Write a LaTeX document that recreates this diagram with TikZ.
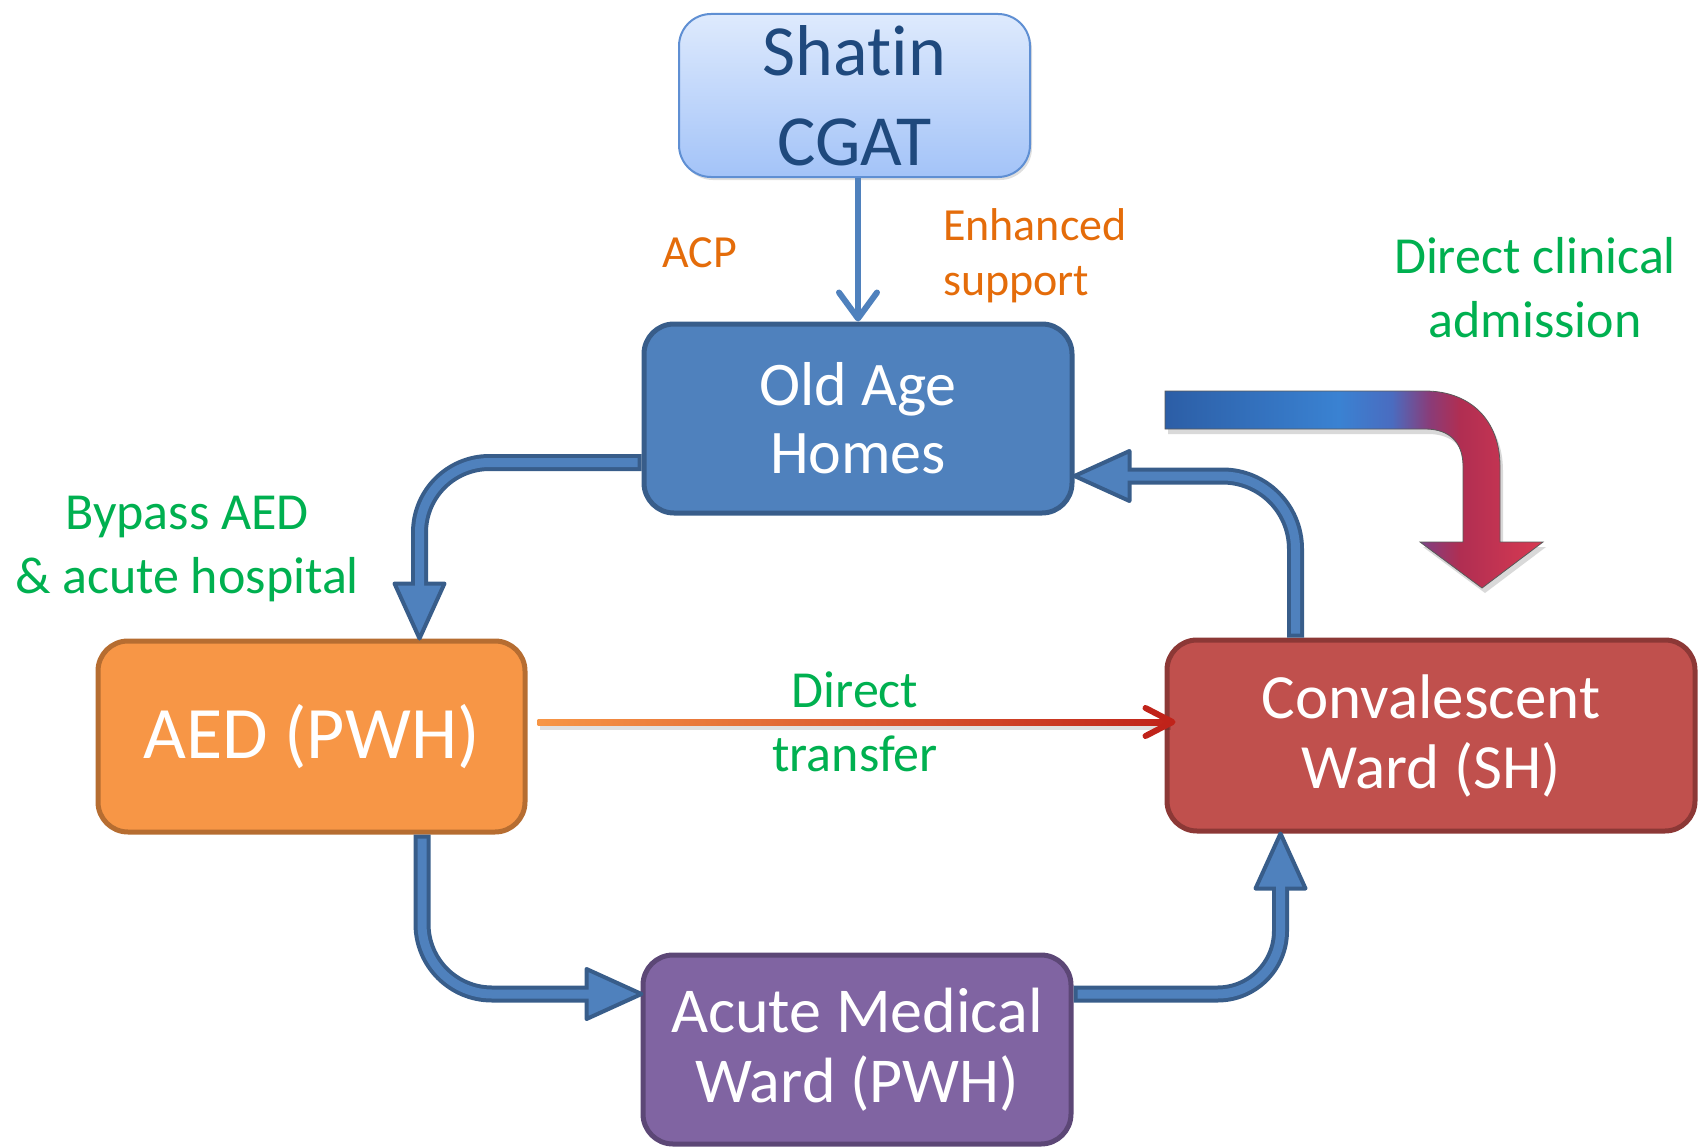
\documentclass[tikz,border=0pt]{standalone}
\usepackage{fontspec}
\setmainfont{Carlito}[Ligatures={NoCommon}]
\usetikzlibrary{calc,arrows.meta,shadows}
\definecolor{oahfill}{HTML}{4F81BD}
\definecolor{oahline}{HTML}{385D8A}
\definecolor{aedfill}{HTML}{F79646}
\definecolor{aedline}{HTML}{B66D31}
\definecolor{convfill}{HTML}{C0504D}
\definecolor{convline}{HTML}{8C3836}
\definecolor{acufill}{HTML}{8064A2}
\definecolor{aculine}{HTML}{5C4776}
\definecolor{cgattop}{HTML}{DEEAFD}
\definecolor{cgatbot}{HTML}{A3C3F8}
\definecolor{cgatline}{HTML}{5F8FD3}
\definecolor{cgattext}{HTML}{1F497D}
\definecolor{lblgreen}{HTML}{00B050}
\definecolor{lblorange}{HTML}{E46C0A}
\definecolor{trorange}{HTML}{F79646}
\definecolor{trred}{HTML}{C0231A}
\definecolor{bgA}{HTML}{2C5EA6}
\definecolor{bgB}{HTML}{3A82D2}
\definecolor{bgC}{HTML}{4A6CC0}
\definecolor{bgD}{HTML}{8A3C78}
\definecolor{bgE}{HTML}{B02E52}
\definecolor{bgF}{HTML}{D83A52}
\pgfdeclarehorizontalshading{bentgrad}{100bp}{color(0bp)=(bgA); color(25bp)=(bgA); color(48bp)=(bgB); color(55bp)=(bgC); color(60bp)=(bgD); color(64bp)=(bgE); color(75bp)=(bgF); color(100bp)=(bgF)}
\tikzset{
  boxbase/.style={rectangle, rounded corners=30pt, inner sep=0pt, align=center, text=white, line width=5pt},
  oahbox/.style={boxbase, fill=oahfill, draw=oahline, minimum width=428pt, minimum height=189pt, font=\fontsize{62}{68}\selectfont},
  aedbox/.style={boxbase, fill=aedfill, draw=aedline, minimum width=427pt, minimum height=191pt, font=\fontsize{74}{80}\selectfont},
  convbox/.style={boxbase, fill=convfill, draw=convline, minimum width=528pt, minimum height=191pt, font=\fontsize{63}{70}\selectfont},
  acubox/.style={boxbase, fill=acufill, draw=aculine, minimum width=428pt, minimum height=189pt, font=\fontsize{64}{70}\selectfont},
  cgatbox/.style={rectangle, rounded corners=32pt, inner sep=0pt, align=center, text=cgattext, top color=cgattop, bottom color=cgatbot, draw=cgatline, line width=2pt, minimum width=351pt, minimum height=163pt, font=\fontsize{72}{90}\selectfont, drop shadow={opacity=0.25, shadow xshift=2pt, shadow yshift=-3pt}},
  lblg/.style={text=lblgreen, align=center, inner sep=0pt, font=\fontsize{52}{64}\selectfont},
  lblo/.style={text=lblorange, align=left, inner sep=0pt, font=\fontsize{46}{55}\selectfont},
  bshaftout/.style={draw=oahline, line width=17pt, rounded corners=#1},
  bshaftin/.style={draw=oahfill, line width=9pt, rounded corners=#1},
  bhead/.style={fill=oahfill, draw=oahline, line width=4pt, line join=round},
}
% #1 start, #2 tip, #3 corner radius; head length 55, half width 25
\newcommand\blockarrow[3]{%
  \coordinate (ba-c) at (#1 |- #2);
  \coordinate (ba-b) at ($(#2)!55pt!(ba-c)$);
  \path[bshaftout=#3] (#1) -- (ba-c) -- (ba-b);
  \path[bhead] ($(ba-b)!25pt!90:(#2)$) -- (#2) -- ($(ba-b)!25pt!-90:(#2)$) -- cycle;
  \path[bshaftin=#3, shorten <=4pt] (#1) -- (ba-c) -- ($(ba-b)!4pt!(#2)$);
}
\newcommand\blockarrowhv[3]{%
  \coordinate (ba-c) at (#1 -| #2);
  \coordinate (ba-b) at ($(#2)!55pt!(ba-c)$);
  \path[bshaftout=#3] (#1) -- (ba-c) -- (ba-b);
  \path[bhead] ($(ba-b)!25pt!90:(#2)$) -- (#2) -- ($(ba-b)!25pt!-90:(#2)$) -- cycle;
  \path[bshaftin=#3, shorten <=4pt] (#1) -- (ba-c) -- ($(ba-b)!4pt!(#2)$);
}
\begin{document}
\begin{tikzpicture}[x=1pt,y=-1pt]
\useasboundingbox (0,0) rectangle (1698,1148);

% boxes
\node[cgatbox] (cgat) at (854.5,95.5) {Shatin\\CGAT};
\node[oahbox] (oah) at (858,418.5) {Old Age\\Homes};
\node[aedbox] (aed) at (311.5,736.5) {AED (PWH)};
\node[convbox] (conv) at (1431,735.5) {Convalescent\\Ward (SH)};
\node[acubox] (acu) at (857,1049.5) {Acute Medical\\Ward (PWH)};

% thin arrow CGAT -> Old Age Homes
\draw[oahfill, line width=6pt, -{Straight Barb[length=26pt,width=38pt,round]}] (cgat.south -| oah.north) -- (oah.north);

% block arrows
\coordinate (a1s) at ($(oah.west)+(0,44)$);
\coordinate (a1t) at ($(aed.north west)+(324,0)$);
\blockarrowhv{a1s}{a1t}{70pt}

\coordinate (a2s) at ($(conv.north west)+(131,0)$);
\coordinate (a2t) at ($(oah.east)+(0,57.5)$);
\blockarrow{a2s}{a2t}{73pt}

\coordinate (a3s) at ($(aed.south west)+(326.5,0)$);
\coordinate (a3t) at ($(acu.west)+(1,-55.5)$);
\blockarrow{a3s}{a3t}{70pt}

\coordinate (a4s) at ($(acu.east)+(0,-55.5)$);
\coordinate (a4t) at ($(conv.south west)+(116,0)$);
\blockarrowhv{a4s}{a4t}{63pt}

% direct transfer arrow
\coordinate (dt1) at ($(aed.east)+(10,-14.5)$);
\coordinate (dt2) at ($(conv.west)+(8,-13.5)$);
\fill[black, opacity=0.12] ($(dt1)+(2,2)$) rectangle ($(dt2)+(-2,8)$);
\shade[left color=trorange, right color=trred] ($(dt1)+(0,-3)$) rectangle ($(dt2)+(-3,3)$);
\draw[trred, line width=6pt, line cap=round, line join=round] ($(dt2)+(-27,-14)$) -- (dt2) -- ($(dt2)+(-27,14)$);

% big bent gradient arrow
\fill[black, opacity=0.15, shift={(3,5)}] (1165,391) -- (1425,391) .. controls (1470,391) and (1500,420) .. (1500,466) -- (1500,542) -- (1543,542) -- (1482,588) -- (1420,542) -- (1463,542) -- (1463,466) .. controls (1463,443) and (1450,429) .. (1425,429) -- (1165,429) -- cycle;
\shade[shading=bentgrad, draw=black!65, line width=0.8pt] (1165,391) -- (1425,391) .. controls (1470,391) and (1500,420) .. (1500,466) -- (1500,542) -- (1543,542) -- (1482,588) -- (1420,542) -- (1463,542) -- (1463,466) .. controls (1463,443) and (1450,429) .. (1425,429) -- (1165,429) -- cycle;

% labels (anchor base = baseline of last line)
\node[lblo, anchor=base west] (lacp) at (662,267) {ACP};
\node[lblo, anchor=base west] (lenh) at (943,295) {Enhanced\\support};
\node[lblg, anchor=base] (ldca) at (1535,337) {Direct clinical\\admission};
\node[lblg, anchor=base] (lbyp) at (187,593) {Bypass AED\\\& acute hospital};
\node[lblg, anchor=base] (ldt) at (855,771) {Direct\\transfer};
\end{tikzpicture}
\end{document}
